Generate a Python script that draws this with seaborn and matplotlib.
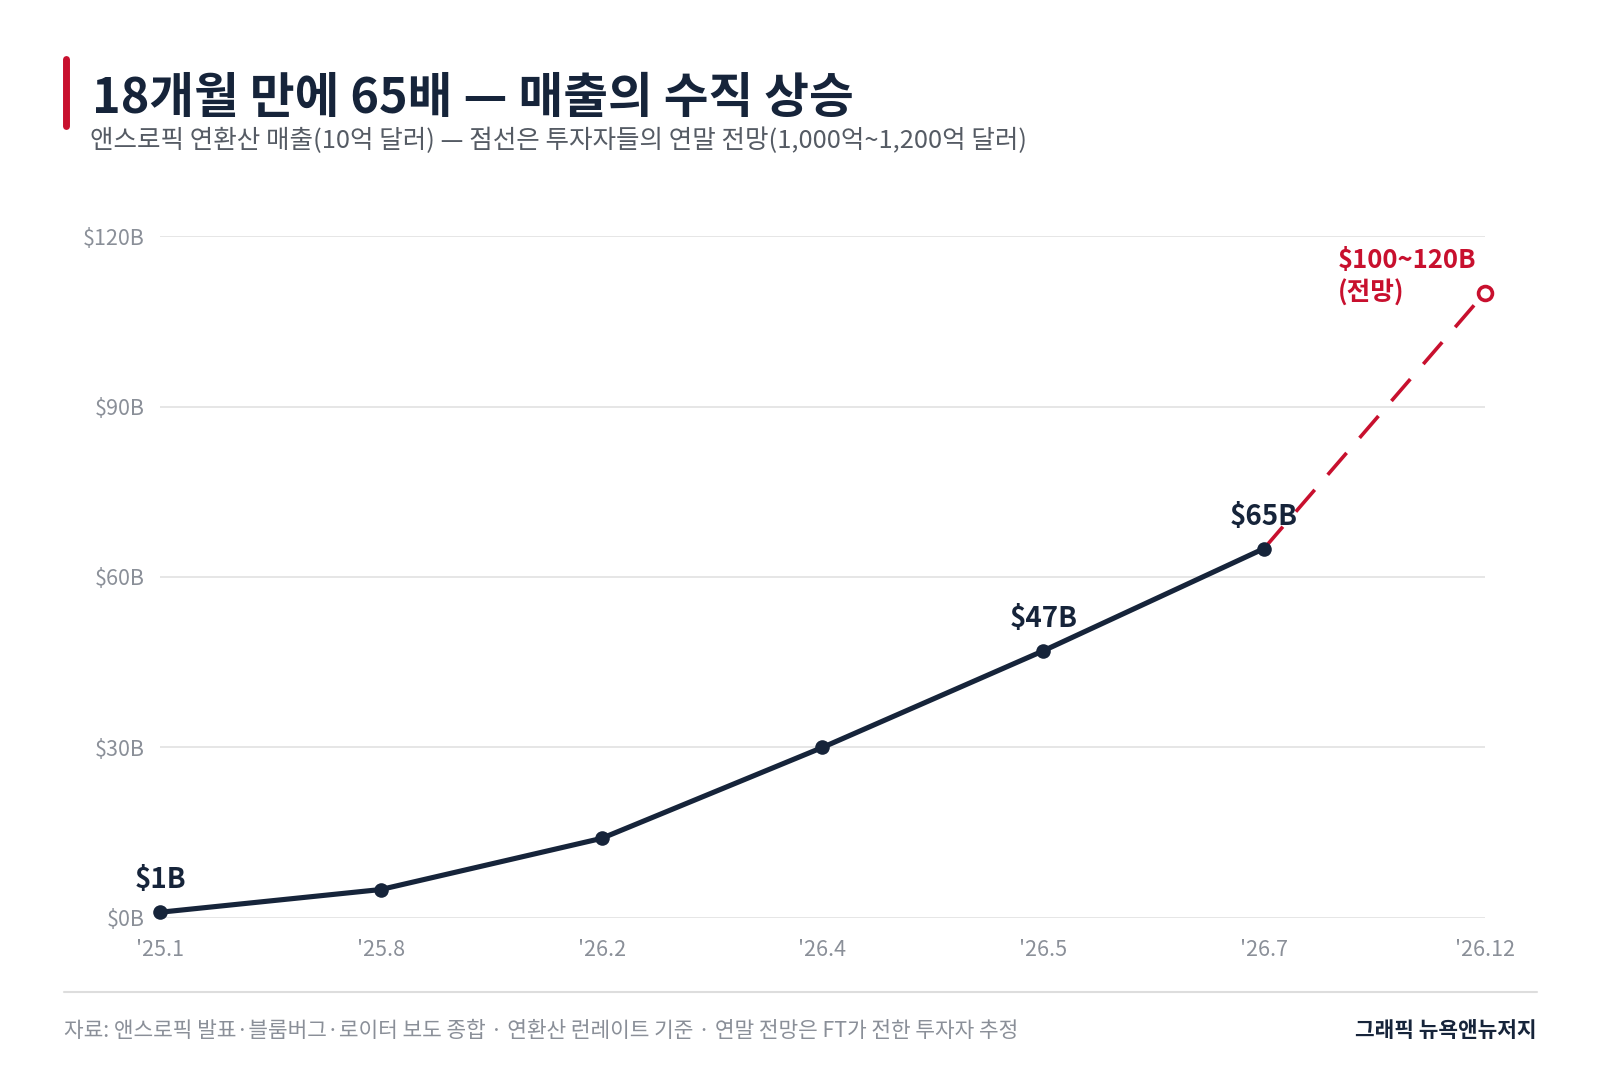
import pandas as pd
import matplotlib.pyplot as plt
import seaborn as sns

# data
periods = ["'25.1", "'25.8", "'26.2", "'26.4", "'26.5", "'26.7", "'26.12"]
revenue = [1, 5, 14, 30, 47, 65]          # $B, run-rate
forecast_from = 65
forecast_to = 110                          # midpoint of 100~120
labelled = {0: "$1B", 4: "$47B", 5: "$65B"}
y_ticks = [0, 30, 60, 90, 120]

NAVY = "#16243a"
RED = "#c8102e"
GREY = "#8a8f98"

sns.set_theme(style="white")
plt.rcParams["font.family"] = ["Noto Sans CJK KR", "DejaVu Sans"]

df = pd.DataFrame({"pos": range(len(revenue)), "rev": revenue})
fc = pd.DataFrame({"pos": [len(revenue) - 1, len(periods) - 1],
                   "rev": [forecast_from, forecast_to]})

fig = plt.figure(figsize=(16, 10.67), dpi=100)
ax = fig.add_axes([0.1, 0.1397, 0.828, 0.6391])

# forecast dashed line
sns.lineplot(data=fc, x="pos", y="rev", ax=ax, color=RED, linewidth=2.6,
             dashes=False, zorder=2)
ax.lines[-1].set_dashes([8, 5.5])
ax.lines[-1].set_clip_on(False)

# actual line
sns.lineplot(data=df, x="pos", y="rev", ax=ax, color=NAVY, linewidth=3.7,
             marker="o", markersize=10.5, markeredgewidth=0, zorder=3)
ax.lines[-1].set_clip_on(False)

# forecast end point (hollow)
ax.plot(fc["pos"].iloc[-1], fc["rev"].iloc[-1], marker="o", markersize=10,
        markerfacecolor="white", markeredgecolor=RED, markeredgewidth=2.6,
        clip_on=False, zorder=4)

for i, txt in labelled.items():
    ax.annotate(txt, (i, revenue[i]), xytext=(0, 13), textcoords="offset points",
                ha="center", va="bottom", fontsize=20, fontweight="bold",
                color=NAVY)

ax.annotate("$100~120B\n(전망)", (fc["pos"].iloc[-1], fc["rev"].iloc[-1]),
            xytext=(-6, 11.5), textcoords="offset points", ha="right", va="center",
            multialignment="left", fontsize=18.5, fontweight="bold", color=RED,
            linespacing=1.25)

ax.set_xlim(0, len(periods) - 1)
ax.set_ylim(0, 120)
ax.set_xticks(range(len(periods)))
ax.set_xticklabels(periods)
ax.set_yticks(y_ticks)
ax.set_yticklabels([f"${v}B" for v in y_ticks])
ax.tick_params(axis="both", length=0, labelsize=15.5, colors=GREY)
ax.tick_params(axis="y", pad=11)
ax.tick_params(axis="x", pad=15.5)
ax.set_xlabel("")
ax.set_ylabel("")
ax.grid(axis="y", color="#e2e2e2", linewidth=1.2)
ax.grid(axis="x", visible=False)
for s in ax.spines.values():
    s.set_visible(False)

# title block
fig.add_artist(plt.Line2D([0.0415, 0.0415], [0.882, 0.945], color=RED,
                          linewidth=5, transform=fig.transFigure))
fig.text(0.0575, 0.908, "18개월 만에 65배 — 매출의 수직 상승", fontsize=35,
         fontweight="bold", color=NAVY, va="center", ha="left")
fig.text(0.0565, 0.868, "앤스로픽 연환산 매출(10억 달러) — 점선은 투자자들의 연말 전망(1,000억~1,200억 달러)",
         fontsize=18.4, color="#555b64", va="center", ha="left")

# footer
fig.add_artist(plt.Line2D([0.04, 0.9605], [0.070, 0.070], color="#dddddd",
                          linewidth=1.5, transform=fig.transFigure))
fig.text(0.04, 0.034, "자료: 앤스로픽 발표·블룸버그·로이터 보도 종합 · 연환산 런레이트 기준 · 연말 전망은 FT가 전한 투자자 추정",
         fontsize=15.4, color=GREY, va="center", ha="left")
fig.text(0.9605, 0.034, "그래픽 뉴욕앤뉴저지", fontsize=15.4, fontweight="bold",
         color=NAVY, va="center", ha="right")

fig.savefig("out.png", dpi=100, facecolor="white")
